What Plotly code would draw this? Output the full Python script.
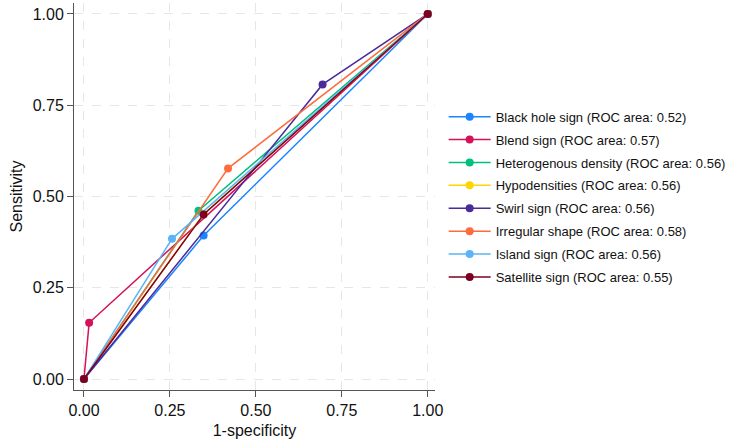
import plotly.graph_objects as go

names = ["Black hole sign (ROC area: 0.52)", "Blend sign (ROC area: 0.57)",
         "Heterogenous density (ROC area: 0.56)", "Hypodensities (ROC area: 0.56)",
         "Swirl sign (ROC area: 0.56)", "Irregular shape (ROC area: 0.58)",
         "Island sign (ROC area: 0.56)", "Satellite sign (ROC area: 0.55)"]
colors = ["#1a85ff", "#d41159", "#00bf7f", "#ffd400", "#4b2a9a", "#ff6b3a", "#5ab4f7", "#7d0021"]
fpr = [[0, 0.348, 1], [0, 0.015, 1], [0, 0.333, 1], [0, 0.348, 1],
       [0, 0.694, 1], [0, 0.419, 1], [0, 0.256, 1], [0, 0.348, 1]]
tpr = [[0, 0.393, 1], [0, 0.154, 1], [0, 0.461, 1], [0, 0.452, 1],
       [0, 0.807, 1], [0, 0.577, 1], [0, 0.384, 1], [0, 0.451, 1]]
ticks = [0, 0.25, 0.5, 0.75, 1.0]
tick_labels = ["0.00", "0.25", "0.50", "0.75", "1.00"]

fig = go.Figure()
for i, (n, c, x, y) in enumerate(zip(names, colors, fpr, tpr)):
    fig.add_trace(go.Scatter(x=x, y=y, mode="lines+markers", name=n,
                             legendgroup=f"g{i}",
                             line=dict(color=c, width=1.5),
                             marker=dict(color=c, size=8)))

font = "Liberation Sans, Arial, Helvetica, sans-serif"
axis_common = dict(
    tickvals=ticks, ticktext=tick_labels,
    showgrid=True, gridcolor="#e6e6e6", griddash="dash", gridwidth=1,
    zeroline=False, showline=True, linecolor="#555555", linewidth=1,
    ticks="outside", ticklen=6, tickcolor="#555555",
    tickfont=dict(size=16, color="#111111", family=font),
)
fig.update_layout(
    width=734, height=447,
    margin=dict(l=74, r=296, t=3, b=57),
    paper_bgcolor="white", plot_bgcolor="white",
    font=dict(family=font, color="#111111"),
    xaxis=dict(title=dict(text="1-specificity", font=dict(size=16), standoff=6),
               range=[-0.029, 1.021], **axis_common),
    yaxis=dict(title=dict(text="Sensitivity", font=dict(size=16), standoff=6),
               range=[-0.03, 1.03], **axis_common),
    legend=dict(x=1.024, xanchor="left", y=0.745, yanchor="top",
                font=dict(size=13, family=font, color="#111111"),
                itemwidth=42,
                bgcolor="rgba(0,0,0,0)", tracegroupgap=3),
    showlegend=True,
)
fig.write_html("out.html")
